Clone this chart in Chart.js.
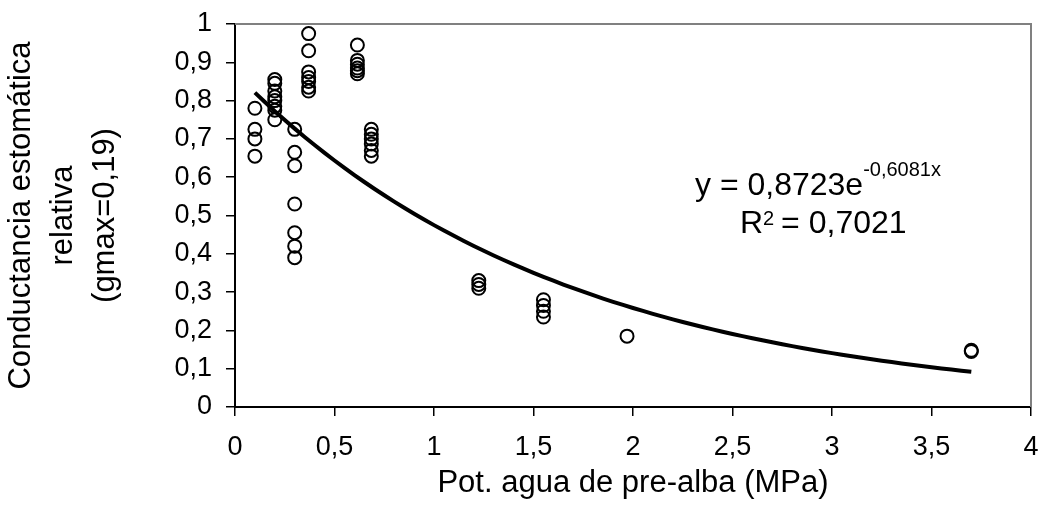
<!DOCTYPE html>
<html>
<head>
<meta charset="utf-8">
<script src="https://cdn.jsdelivr.net/npm/chart.js@4"></script>
<style>
  html, body { margin: 0; padding: 0; background: #fff; }
  #wrap { width: 1042px; height: 505px; }
</style>
</head>
<body>
<div id="wrap"><canvas id="ScatterChart" width="1042" height="505"></canvas></div>
<script>
// potencial hidrico de pre-alba (MPa) y conductancia relativa medida
const potencial = [
  0.1, 0.1, 0.1, 0.1,
  0.2, 0.2, 0.2, 0.2, 0.2, 0.2, 0.2, 0.2,
  0.3, 0.3, 0.3, 0.3, 0.3, 0.3, 0.3,
  0.37, 0.37, 0.37, 0.37, 0.37, 0.37, 0.37,
  0.615, 0.615, 0.615, 0.615, 0.615, 0.615,
  0.685, 0.685, 0.685, 0.685, 0.685, 0.685,
  1.225, 1.225, 1.225,
  1.55, 1.55, 1.55, 1.55,
  1.97,
  3.7, 3.7
];
const conductancia = [
  0.78, 0.725, 0.70, 0.655,
  0.855, 0.845, 0.825, 0.81, 0.80, 0.785, 0.775, 0.75,
  0.725, 0.665, 0.63, 0.53, 0.455, 0.42, 0.39,
  0.975, 0.93, 0.875, 0.86, 0.85, 0.835, 0.825,
  0.945, 0.905, 0.895, 0.885, 0.878, 0.87,
  0.725, 0.712, 0.70, 0.687, 0.67, 0.655,
  0.33, 0.32, 0.31,
  0.28, 0.265, 0.25, 0.235,
  0.185,
  0.145, 0.148
];

// ajuste exponencial (linea de tendencia)
const coefA = 0.8723;
const coefB = -0.6081;
const r2 = 0.7021;
const trendFrom = 0.1;
const trendTo = 3.7;

const xTicks = [0, 0.5, 1, 1.5, 2, 2.5, 3, 3.5, 4];

const FAMILY = '"Liberation Sans", Arial, sans-serif';

function coma(v){
  return (Math.round(v * 100) / 100).toString().replace('.', ',');
}

function buildTrend(){
  let pts = [];
  for (let i = 0; i <= 72; i++){
    let x = trendFrom + (trendTo - trendFrom) * i / 72;
    pts.push({x: x, y: coefA * Math.exp(coefB * x)});
  }
  return pts;
}

const puntos = potencial.map((x, i) => ({x: x, y: conductancia[i]}));

// marco gris arriba y a la derecha + ecuacion del ajuste
const extras = {
  id: 'extras',
  afterDraw(chart){
    const ctx = chart.ctx;
    const a = chart.chartArea;
    ctx.save();
    ctx.strokeStyle = '#808080';
    ctx.lineWidth = 2;
    ctx.beginPath();
    ctx.moveTo(a.left, a.top);
    ctx.lineTo(a.right, a.top);
    ctx.lineTo(a.right, a.bottom);
    ctx.stroke();

    ctx.fillStyle = '#000';
    ctx.textBaseline = 'alphabetic';
    ctx.textAlign = 'left';

    // y = 0,8723e^(-0,6081x)
    let x0 = a.left + 460, y0 = a.top + 171;
    let t1 = 'y = ' + coefA.toString().replace('.', ',') + 'e';
    ctx.font = '32px ' + FAMILY;
    ctx.fillText(t1, x0, y0);
    let w = ctx.measureText(t1).width;
    ctx.font = '20px ' + FAMILY;
    ctx.fillText(coefB.toString().replace('.', ',') + 'x', x0 + w, y0 - 19);

    // R^2 = 0,7021
    let x1 = a.left + 505, y1 = a.top + 209;
    ctx.font = '32px ' + FAMILY;
    ctx.fillText('R', x1, y1);
    let wr = ctx.measureText('R').width;
    ctx.font = '20px ' + FAMILY;
    ctx.fillText('2', x1 + wr, y1 - 8);
    let w2 = ctx.measureText('2').width;
    ctx.font = '32px ' + FAMILY;
    ctx.fillText(' = ' + r2.toString().replace('.', ','), x1 + wr + w2 - 2, y1);
    ctx.restore();
  }
};

const fontTick = {family: FAMILY, size: 27};
const fontTitle = {family: FAMILY, size: 31, lineHeight: 1.36};

new Chart(document.getElementById('ScatterChart').getContext('2d'), {
  type: 'scatter',
  data: {
    datasets: [{
      label: 'medidas',
      data: puntos,
      pointStyle: 'circle',
      pointRadius: 6.5,
      pointBorderWidth: 2,
      borderColor: '#000',
      backgroundColor: 'rgba(0,0,0,0)',
      order: 2
    }, {
      type: 'line',
      label: 'tendencia',
      data: buildTrend(),
      borderColor: '#000',
      borderWidth: 4,
      pointRadius: 0,
      tension: 0,
      order: 1
    }]
  },
  options: {
    responsive: false,
    animation: false,
    devicePixelRatio: 1,
    layout: {padding: {top: 24, right: 11, left: 0, bottom: 0}},
    plugins: {legend: {display: false}, tooltip: {enabled: false}},
    scales: {
      x: {
        type: 'linear',
        min: 0, max: 4,
        afterBuildTicks(s){ s.ticks = xTicks.map(v => ({value: v})); },
        afterFit(s){ s.height = 98; s.paddingLeft = 0; s.paddingRight = 0; },
        ticks: {color: '#000', font: fontTick, padding: 15, maxRotation: 0, callback: v => coma(v)},
        grid: {drawOnChartArea: false, color: '#000', tickLength: 9, lineWidth: 1.5},
        border: {color: '#000', width: 2},
        title: {display: true, text: 'Pot. agua de pre-alba (MPa)', color: '#000',
                font: {family: FAMILY, size: 31}, padding: {top: 0, bottom: 3}}
      },
      y: {
        min: 0, max: 1,
        afterFit(s){ s.width = 235; s.paddingTop = 0; s.paddingBottom = 0; },
        ticks: {stepSize: 0.1, color: '#000', font: fontTick, padding: 14, callback: v => coma(v)},
        grid: {drawOnChartArea: false, color: '#000', tickLength: 9, lineWidth: 1.5},
        border: {color: '#000', width: 2},
        title: {
          display: true,
          text: ['Conductancia estomática', 'relativa', '(gmax=0,19)'],
          color: '#000', font: fontTitle, padding: {top: 0, bottom: 0}
        }
      }
    }
  },
  plugins: [extras]
});
</script>
</body>
</html>
